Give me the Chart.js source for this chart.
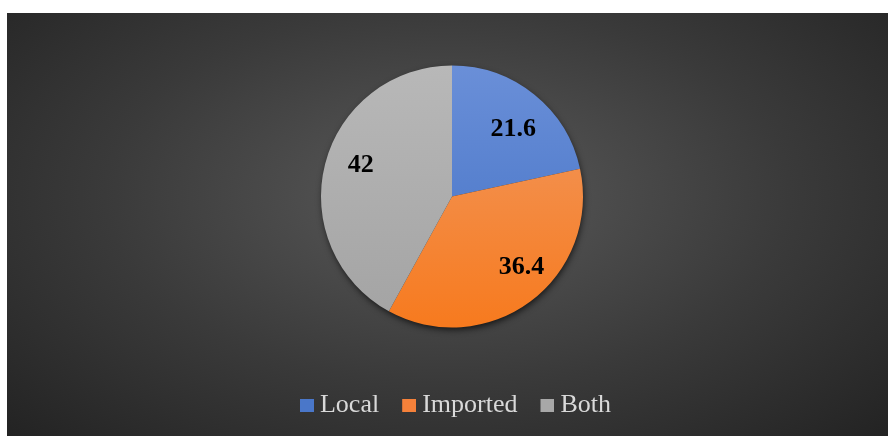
<!DOCTYPE html>
<html>
<head>
<meta charset="utf-8">
<script src="https://cdn.jsdelivr.net/npm/chart.js@4"></script>
<style>
  html, body { margin: 0; padding: 0; background: #ffffff; }
  #frame {
    position: absolute; left: 7px; top: 13px; width: 881px; height: 423px;
    background: radial-gradient(ellipse farthest-corner at 50% 43%, #5a5a5a 0%, #3a3a3a 55%, #232323 100%);
  }
  canvas { display: block; }
</style>
</head>
<body>
<div id="frame"><canvas id="c" width="881" height="423"></canvas></div>
<script>
// Source-of-purchase shares (%)
const categories = ['Local', 'Imported', 'Both'];
const values = [21.6, 36.4, 42];

// Light (top) and deep (bottom) tones for each slice's vertical gradient
const topColors = ['#6a8fd8', '#f09b66', '#b8b8b8'];
const bottomColors = ['#4170c4', '#f77a1e', '#a3a3a3'];
const legendColors = ['#4a77c9', '#f5813a', '#a8a8a8'];

const PIE_RADIUS = 131;

function sliceFill(context) {
  const chart = context.chart;
  const i = context.dataIndex;
  const area = chart.chartArea;
  if (!area) return bottomColors[i];
  const cy = (area.top + area.bottom) / 2;
  const g = chart.ctx.createLinearGradient(0, cy - PIE_RADIUS, 0, cy + PIE_RADIUS);
  g.addColorStop(0, topColors[i]);
  g.addColorStop(1, bottomColors[i]);
  return g;
}

// Legend swatch: square sitting on the right half of a wider transparent tile,
// so it hugs its text like the office-style legend
function swatch(color) {
  const c = document.createElement('canvas');
  c.width = 28; c.height = 13;
  const g = c.getContext('2d');
  g.fillStyle = color;
  g.fillRect(14, 0, 14, 13);
  return c;
}

// Soft drop shadow under the pie disc
const pieShadow = {
  id: 'pieShadow',
  beforeDatasetsDraw(chart) {
    const arc = chart.getDatasetMeta(0).data[0];
    if (!arc) return;
    const ctx = chart.ctx;
    ctx.save();
    ctx.shadowColor = 'rgba(0,0,0,0.75)';
    ctx.shadowBlur = 7;
    ctx.shadowOffsetX = 1;
    ctx.shadowOffsetY = 3;
    ctx.fillStyle = '#2a2a2a';
    ctx.beginPath();
    ctx.arc(arc.x, arc.y, arc.outerRadius - 1, 0, Math.PI * 2);
    ctx.fill();
    ctx.restore();
  }
};

// Value labels placed inside each slice (best-fit style, with small per-slice nudges)
const sliceLabels = {
  id: 'sliceLabels',
  afterDatasetsDraw(chart, args, opts) {
    const ctx = chart.ctx;
    const meta = chart.getDatasetMeta(0);
    const nudges = opts.nudges || [];
    ctx.save();
    ctx.font = 'bold 26px "Liberation Serif", "Times New Roman", serif';
    ctx.fillStyle = '#000000';
    ctx.textAlign = 'center';
    ctx.textBaseline = 'middle';
    meta.data.forEach((arc, i) => {
      const mid = (arc.startAngle + arc.endAngle) / 2;
      const r = arc.outerRadius * 0.72;
      const n = nudges[i] || [0, 0];
      ctx.fillText(String(values[i]),
        arc.x + Math.cos(mid) * r + n[0],
        arc.y + Math.sin(mid) * r + n[1]);
    });
    ctx.restore();
  }
};

new Chart(document.getElementById('c'), {
  type: 'pie',
  data: {
    labels: categories,
    datasets: [{
      data: values,
      backgroundColor: sliceFill,
      borderWidth: 0,
      radius: PIE_RADIUS
    }]
  },
  options: {
    responsive: false,
    animation: false,
    layout: { padding: { top: 4, bottom: 8, left: 9, right: 0 } },
    plugins: {
      tooltip: { enabled: false },
      sliceLabels: { nudges: [[2, 6], [13, -5], [0, -8]] },
      legend: {
        position: 'bottom',
        labels: {
          color: '#d9d9d9',
          font: { family: '"Liberation Serif", "Times New Roman", serif', size: 26 },
          usePointStyle: true,
          pointStyleWidth: 14,
          boxWidth: 14,
          boxHeight: 13,
          padding: 16,
          generateLabels(chart) {
            return categories.map((name, i) => ({
              text: name,
              fillStyle: legendColors[i],
              strokeStyle: legendColors[i],
              lineWidth: 0,
              pointStyle: swatch(legendColors[i]),
              fontColor: '#d9d9d9',
              hidden: false,
              index: i
            }));
          }
        }
      }
    }
  },
  plugins: [pieShadow, sliceLabels]
});
</script>
</body>
</html>
